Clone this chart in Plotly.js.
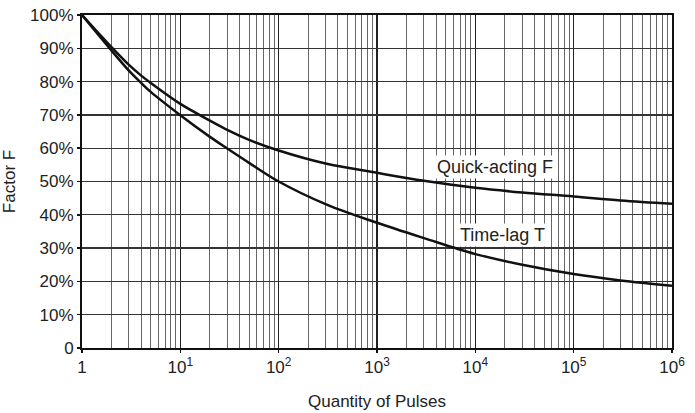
<!DOCTYPE html>
<html>
<head>
<meta charset="utf-8">
<script src="https://cdn.plot.ly/plotly-3.0.1.min.js"></script>
<style>html,body{margin:0;padding:0;background:#fff;}#chart{width:695px;height:413px;}</style>
</head>
<body>
<div id="chart"></div>
<script>
const pulses = [1, 2, 3, 4, 5, 10, 20, 30, 50, 100, 300, 1000, 3000, 1e4, 3e4, 1e5, 3e5, 1e6];
const quickActing = [100, 90.3, 85, 81.8, 79.6, 73.3, 68.3, 65.5, 62.5, 59.3, 55.4, 52.6, 50.2, 48.1, 46.7, 45.5, 44.3, 43.3];
const timeLag = [100, 89.3, 83.3, 79.6, 76.9, 69.9, 63.4, 59.9, 55.6, 50, 43.2, 37.6, 33, 28.2, 25, 22.2, 20.3, 18.7];
const xTickVals = [1, 10, 100, 1000, 1e4, 1e5, 1e6];
const xTickText = ['1', '10<sup>1</sup>', '10<sup>2</sup>', '10<sup>3</sup>', '10<sup>4</sup>', '10<sup>5</sup>', '10<sup>6</sup>'];
const yTickVals = [0, 10, 20, 30, 40, 50, 60, 70, 80, 90, 100];
const yTickText = ['0', '10%', '20%', '30%', '40%', '50%', '60%', '70%', '80%', '90%', '100%'];
const seriesNames = ['Quick-acting F', 'Time-lag T'];
const labelX = [16000, 19000];
const labelY = [54.3, 33.9];

const font = {family: 'Liberation Sans, Arial, sans-serif', size: 17, color: '#222'};
const annFont = {family: 'Liberation Sans, Arial, sans-serif', size: 18, color: '#222'};
const traces = [quickActing, timeLag].map((vals, i) => ({
  x: pulses, y: vals, type: 'scatter', mode: 'lines', name: seriesNames[i],
  line: {color: '#111', width: 2.5, shape: 'spline', smoothing: 1},
  hoverinfo: 'skip'
}));

const layout = {
  width: 695, height: 413,
  margin: {l: 82, r: 23, t: 15, b: 65},
  paper_bgcolor: '#fff', plot_bgcolor: '#fff',
  showlegend: false,
  font: font,
  xaxis: {
    type: 'log', range: [0, 6], autorange: false,
    tickvals: xTickVals, ticktext: xTickText,
    showgrid: true, gridcolor: '#222', gridwidth: 1.6,
    minor: {dtick: 'D1', showgrid: true, gridcolor: '#666', gridwidth: 1, ticks: ''},
    showline: true, linecolor: '#111', linewidth: 2, mirror: true,
    ticks: 'outside', ticklen: 3, tickcolor: '#111', tickwidth: 1.5,
    zeroline: false,
    tickfont: font,
    title: {text: 'Quantity of Pulses', font: font, standoff: 19}
  },
  yaxis: {
    range: [0, 100], autorange: false,
    tickvals: yTickVals, ticktext: yTickText,
    showgrid: true, gridcolor: '#333', gridwidth: 1.3,
    showline: true, linecolor: '#111', linewidth: 2, mirror: true,
    ticks: 'outside', ticklen: 3, tickcolor: '#111', tickwidth: 1.5,
    zeroline: false,
    tickfont: font,
    title: {text: 'Factor F', font: font, standoff: 10}
  },
  annotations: seriesNames.map((n, i) => ({
    x: Math.log10(labelX[i]), y: labelY[i], xref: 'x', yref: 'y',
    text: n, showarrow: false, font: annFont, bgcolor: '#fff', borderpad: 1
  }))
};

Plotly.newPlot('chart', traces, layout, {staticPlot: true, displayModeBar: false});
</script>
</body>
</html>
